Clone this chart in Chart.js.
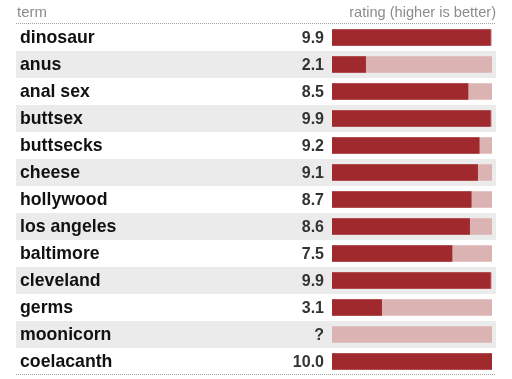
<!DOCTYPE html>
<html>
<head>
<meta charset="utf-8">
<script src="https://cdn.jsdelivr.net/npm/chart.js@4/dist/chart.umd.min.js"></script>
<style>
html,body{margin:0;padding:0;background:#fff;}
#wrap{width:512px;height:379px;position:relative;}
</style>
</head>
<body>
<div id="wrap"><canvas id="c" width="512" height="379"></canvas></div>
<script>
const terms = ["dinosaur","anus","anal sex","buttsex","buttsecks","cheese","hollywood","los angeles","baltimore","cleveland","germs","moonicorn","coelacanth"];
const ratings = [9.9, 2.1, 8.5, 9.9, 9.2, 9.1, 8.7, 8.6, 7.5, 9.9, 3.1, null, 10.0];
const maxRating = 10;
const trackValues = terms.map(() => maxRating);
const headerLeft = "term";
const headerRight = "rating (higher is better)";

const tablePlugin = {
  id: 'tablePlugin',
  beforeDatasetsDraw(chart) {
    const ctx = chart.ctx;
    const y = chart.scales.y;
    const area = chart.chartArea;
    const rowH = (area.bottom - area.top) / terms.length;
    ctx.save();
    terms.forEach((t, i) => {
      if (i % 2 === 1) {
        const cy = y.getPixelForValue(i);
        ctx.fillStyle = '#ebebeb';
        ctx.fillRect(16, Math.round(cy - rowH / 2), 480, Math.round(rowH));
      }
    });
    ctx.restore();
  },
  afterDatasetsDraw(chart) {
    const ctx = chart.ctx;
    const y = chart.scales.y;
    ctx.save();
    // header
    ctx.fillStyle = '#8c8c8c';
    ctx.textBaseline = 'alphabetic';
    ctx.font = '15px "Liberation Sans", Arial, sans-serif';
    ctx.textAlign = 'left';
    ctx.fillText(headerLeft, 17, 17);
    ctx.font = '14.6px "Liberation Sans", Arial, sans-serif';
    ctx.textAlign = 'right';
    ctx.fillText(headerRight, 496, 17);
    // dotted lines
    ctx.strokeStyle = '#a0a0a0';
    ctx.lineWidth = 1;
    ctx.setLineDash([1, 1]);
    ctx.beginPath();
    ctx.moveTo(16, 23.5); ctx.lineTo(496, 23.5);
    ctx.moveTo(16, 374.5); ctx.lineTo(496, 374.5);
    ctx.stroke();
    ctx.setLineDash([]);
    // rows
    ctx.textBaseline = 'middle';
    terms.forEach((t, i) => {
      const cy = y.getPixelForValue(i);
      ctx.font = 'bold 17.7px "Liberation Sans", Arial, sans-serif';
      ctx.fillStyle = '#111';
      ctx.textAlign = 'left';
      ctx.fillText(t, 20, cy + 1);
      ctx.font = 'bold 16px "Liberation Sans", Arial, sans-serif';
      ctx.fillStyle = '#333';
      ctx.textAlign = 'right';
      const v = ratings[i];
      ctx.fillText(v == null ? '?' : v.toFixed(1), 324, cy + 1);
    });
    ctx.restore();
  }
};

new Chart(document.getElementById('c'), {
  type: 'bar',
  data: {
    labels: terms,
    datasets: [
      { data: ratings, backgroundColor: '#a0292d', grouped: false, order: 1, barThickness: 16 },
      { data: trackValues, backgroundColor: '#dcb3b3', grouped: false, order: 2, barThickness: 16 }
    ]
  },
  options: {
    indexAxis: 'y',
    responsive: false,
    animation: false,
    events: [],
    layout: { padding: { left: 332, right: 20, top: 24, bottom: 4 } },
    plugins: { legend: { display: false }, tooltip: { enabled: false } },
    scales: {
      x: { display: false, min: 0, max: maxRating },
      y: { display: false, offset: true }
    }
  },
  plugins: [tablePlugin]
});
</script>
</body>
</html>
